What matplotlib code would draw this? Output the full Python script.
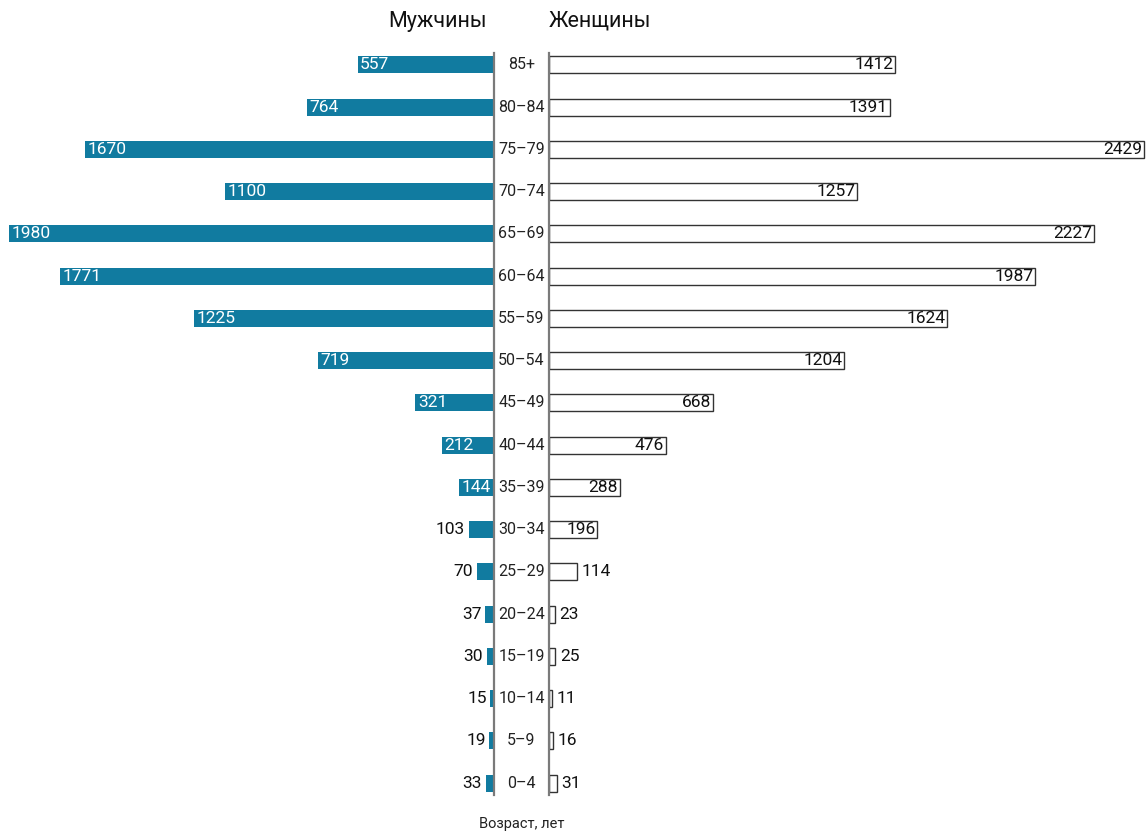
import matplotlib
matplotlib.use("Agg")
import matplotlib.pyplot as plt
import matplotlib.transforms as mtransforms

plt.rcParams['font.family'] = ['Roboto', 'DejaVu Sans']

ages = ['85+', '80–84', '75–79', '70–74', '65–69', '60–64', '55–59', '50–54',
        '45–49', '40–44', '35–39', '30–34', '25–29', '20–24', '15–19',
        '10–14', '5–9', '0–4']
men = [557, 764, 1670, 1100, 1980, 1771, 1225, 719, 321, 212, 144, 103, 70,
       37, 30, 15, 19, 33]
women = [1412, 1391, 2429, 1257, 2227, 1987, 1624, 1204, 668, 476, 288, 196,
         114, 23, 25, 11, 16, 31]

teal = '#117ba0'
line_gray = '#7a7a7a'
W, H = 1147, 833
px = 0.2448  # pixels per unit along x

fig = plt.figure(figsize=(W / 100, H / 100), dpi=100)

top_px, bot_px, row0, step = 53, 795, 65, 42.24
y_top = (top_px - row0) / step
y_bot = (bot_px - row0) / step

left_edge = 494
right_edge = 549
ax_m = fig.add_axes([0, 1 - bot_px / H, left_edge / W, (bot_px - top_px) / H])
ax_w = fig.add_axes([right_edge / W, 1 - bot_px / H, (W - right_edge) / W,
                     (bot_px - top_px) / H])

ypos = list(range(len(ages)))
bar_h = 17 / step

# men, growing to the left
ax_m.barh(ypos, men, height=bar_h, color=teal, edgecolor='none')
ax_m.set_xlim(left_edge / px, 0)
ax_m.set_ylim(y_bot, y_top)

# women, white bars with outline
ax_w.barh(ypos, women, height=bar_h, color='white', edgecolor='#333333',
          linewidth=1.0)
ax_w.set_xlim(0, (W - right_edge) / px)
ax_w.set_ylim(y_bot, y_top)

for ax in (ax_m, ax_w):
    ax.set_xticks([])
    ax.set_yticks([])
    for s in ax.spines.values():
        s.set_visible(False)
ax_m.spines['right'].set_visible(True)
ax_m.spines['right'].set_color(line_gray)
ax_m.spines['right'].set_linewidth(1.6)
ax_w.spines['left'].set_visible(True)
ax_w.spines['left'].set_color(line_gray)
ax_w.spines['left'].set_linewidth(1.6)

fs = 12.5
for y, v in zip(ypos, men):
    if v >= 140:
        ax_m.text(v - 10, y, str(v), ha='left', va='center', color='white',
                  fontsize=fs)
    else:
        ax_m.text(v + 15, y, str(v), ha='right', va='center', color='#111111',
                  fontsize=fs)

for y, v in zip(ypos, women):
    if v >= 190:
        ax_w.text(v - 6, y, str(v), ha='right', va='center', color='#111111',
                  fontsize=fs)
    else:
        ax_w.text(v + 20, y, str(v), ha='left', va='center', color='#111111',
                  fontsize=fs)

# age group labels between the two halves
tr = mtransforms.blended_transform_factory(fig.transFigure, ax_w.transData)
for y, a in zip(ypos, ages):
    ax_w.text(521.5 / W, y, a, transform=tr, ha='center', va='center',
              fontsize=11.5, color='#222222')

fig.text(437 / W, 1 - 21 / H, 'Мужчины', ha='center', va='center',
         fontsize=15.5, color='#111111')
fig.text(549 / W, 1 - 21 / H, 'Женщины', ha='left', va='center',
         fontsize=15.5, color='#111111')
fig.text(521.5 / W, 1 - 824 / H, 'Возраст, лет', ha='center', va='center',
         fontsize=10.5, color='#222222')

fig.savefig('out.png', dpi=100)
